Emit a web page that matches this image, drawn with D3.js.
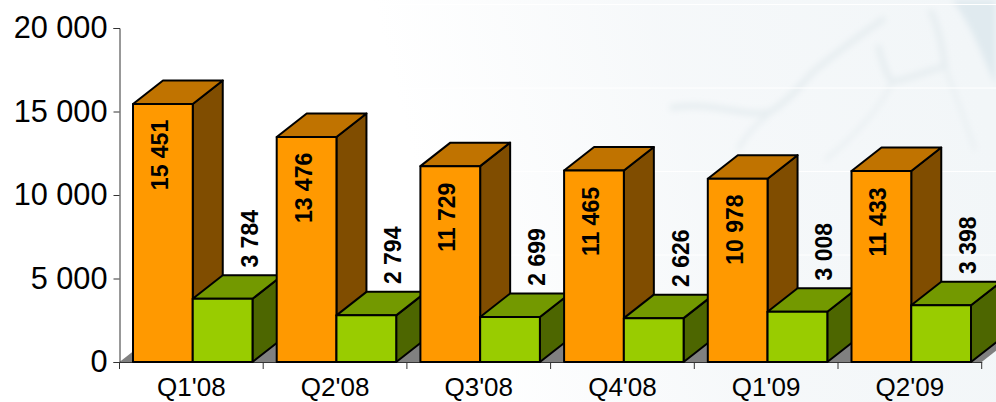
<!DOCTYPE html>
<html>
<head>
<meta charset="utf-8">
<script src="https://cdn.jsdelivr.net/npm/d3@7"></script>
<style>
html, body { margin: 0; padding: 0; background: #fff; overflow: hidden; }
svg { display: block; font-family: "Liberation Sans", Arial, sans-serif; }
</style>
</head>
<body>
<div id="chart"></div>
<script>
const quarters = ["Q1'08", "Q2'08", "Q3'08", "Q4'08", "Q1'09", "Q2'09"]
const seriesA = [15451, 13476, 11729, 11465, 10978, 11433]
const seriesB = [3784, 2794, 2699, 2626, 3008, 3398]
const yTicks = [0, 5000, 10000, 15000, 20000]

const width = 996
const height = 402
const margin = { top: 28, left: 119.5, right: 14.3, bottom: 40 }
const depthX = 30
const depthY = -23.5
const orange = { front: '#FF9900', top: '#C07300', side: '#804D00' }
const green = { front: '#99CC00', top: '#739900', side: '#4D6600' }

const fmt = d3.formatLocale({ thousands: ' ', grouping: [3], decimal: '.', currency: ['', ''] }).format(',')

const svg = d3.select('#chart').append('svg')
  .attr('width', width)
  .attr('height', height)

const defs = svg.append('defs')
const tint = defs.append('linearGradient').attr('id', 'tint')
  .attr('x1', 0).attr('x2', 1).attr('y1', 0.5).attr('y2', 0.4)
tint.append('stop').attr('offset', 0.42).attr('stop-color', '#f4f7f9').attr('stop-opacity', 0)
tint.append('stop').attr('offset', 0.7).attr('stop-color', '#f4f7f9').attr('stop-opacity', 0.85)
tint.append('stop').attr('offset', 1).attr('stop-color', '#f2f6f8').attr('stop-opacity', 1)
defs.append('filter').attr('id', 'soft').append('feGaussianBlur').attr('stdDeviation', 3)

// faint map picture behind the chart
const bg = svg.append('g')
bg.append('rect').attr('width', width).attr('height', height).attr('fill', 'url(#tint)')
const river = bg.append('g').attr('fill', 'none').attr('stroke', '#e6edf0').attr('filter', 'url(#soft)')
river.append('path').attr('stroke-width', 6).attr('d', 'M670,108 C710,100 745,118 770,112 C790,100 800,85 815,70 C840,50 860,35 885,18')
river.append('path').attr('stroke-width', 4).attr('d', 'M768,115 C755,125 745,135 738,150')
river.append('path').attr('stroke-width', 6).attr('d', 'M878,45 C882,60 885,72 892,82 C910,78 925,72 945,66 C942,45 938,25 930,10')
river.append('path').attr('stroke-width', 3).attr('d', 'M945,66 C955,95 965,120 975,150')
river.append('path').attr('stroke-width', 3).attr('d', 'M892,82 C880,110 850,140 825,160')
bg.append('path').attr('fill', '#e0eaef').attr('filter', 'url(#soft)').attr('d', 'M952,0 L996,0 L996,85 C985,65 975,30 952,0 Z')

const y = d3.scaleLinear().domain([0, 20000]).range([362, margin.top])
const x = d3.scaleBand().domain(quarters).range([margin.left, width - margin.right])
const inner = d3.scaleBand().domain(['a', 'b']).range([13.5, 133])

// floor and back wall lines
const floorRight = x.range()[1]
svg.append('path')
  .attr('fill', '#808080')
  .attr('d', d3.line()([
    [margin.left, y(0)],
    [margin.left + depthX, y(0) + depthY],
    [floorRight + depthX, y(0) + depthY],
    [floorRight, y(0)]
  ]) + 'Z')
svg.append('g').selectAll('line')
  .data(yTicks.slice(1))
  .enter()
  .append('line')
  .attr('x1', margin.left + depthX)
  .attr('x2', floorRight + depthX)
  .attr('y1', d => y(d) + depthY)
  .attr('y2', d => y(d) + depthY)
  .attr('stroke', '#fff')
  .attr('stroke-width', 1)

// axes
const yAxis = svg.append('g')
  .attr('transform', `translate(${margin.left},0)`)
  .call(d3.axisLeft(y).tickValues(yTicks).tickFormat(fmt).tickSize(6).tickPadding(6))
yAxis.selectAll('text').attr('font-size', 30.7).attr('fill', '#000').attr('font-family', 'Liberation Sans')
yAxis.selectAll('line, path').attr('stroke', '#333')

const xAxis = svg.append('g')
  .attr('transform', `translate(0,${y(0)})`)
  .call(d3.axisBottom(x).tickSize(0).tickPadding(16).tickSizeOuter(0))
xAxis.selectAll('text').attr('font-size', 26).attr('fill', '#000').attr('font-family', 'Liberation Sans')
xAxis.select('.domain').attr('stroke', '#333')
xAxis.selectAll('.edge')
  .data(d3.range(quarters.length + 1))
  .enter()
  .append('line')
  .attr('class', 'edge')
  .attr('x1', i => margin.left + i * x.step())
  .attr('x2', i => margin.left + i * x.step())
  .attr('y1', 0)
  .attr('y2', 7)
  .attr('stroke', '#333')

let drawBar = function (g, x0, w, value, colors) {
  let top = y(value)
  let base = y(0)
  g.append('path')
    .attr('fill', colors.side)
    .attr('d', d3.line()([[x0 + w, top], [x0 + w + depthX, top + depthY], [x0 + w + depthX, base + depthY], [x0 + w, base]]) + 'Z')
  g.append('path')
    .attr('fill', colors.top)
    .attr('d', d3.line()([[x0, top], [x0 + depthX, top + depthY], [x0 + w + depthX, top + depthY], [x0 + w, top]]) + 'Z')
  g.append('rect')
    .attr('x', x0)
    .attr('y', top)
    .attr('width', w)
    .attr('height', base - top)
    .attr('fill', colors.front)
  g.selectAll('path, rect')
    .attr('stroke', '#000')
    .attr('stroke-width', 2)
    .attr('stroke-linejoin', 'round')
}

let drawLabel = function (g, cx, cy, value) {
  g.append('text')
    .attr('transform', `translate(${cx},${cy}) rotate(-90)`)
    .attr('text-anchor', 'middle')
    .attr('dy', '0.35em')
    .attr('font-size', 23)
    .attr('font-weight', 'bold')
    .attr('fill', '#000')
    .text(fmt(value))
}

const bars = svg.append('g')
const labels = svg.append('g')
quarters.forEach((q, i) => {
  let xa = x(q) + inner('a')
  let xb = x(q) + inner('b')
  let w = inner.bandwidth()
  drawBar(bars.append('g'), xa, w, seriesA[i], orange)
  drawBar(bars.append('g'), xb, w, seriesB[i], green)
  drawLabel(labels, xa + w / 2 - 3, y(seriesA[i]) + 51, seriesA[i])
  drawLabel(labels, xb + w / 2 + 27, y(seriesB[i]) - 60, seriesB[i])
})
</script>
</body>
</html>
